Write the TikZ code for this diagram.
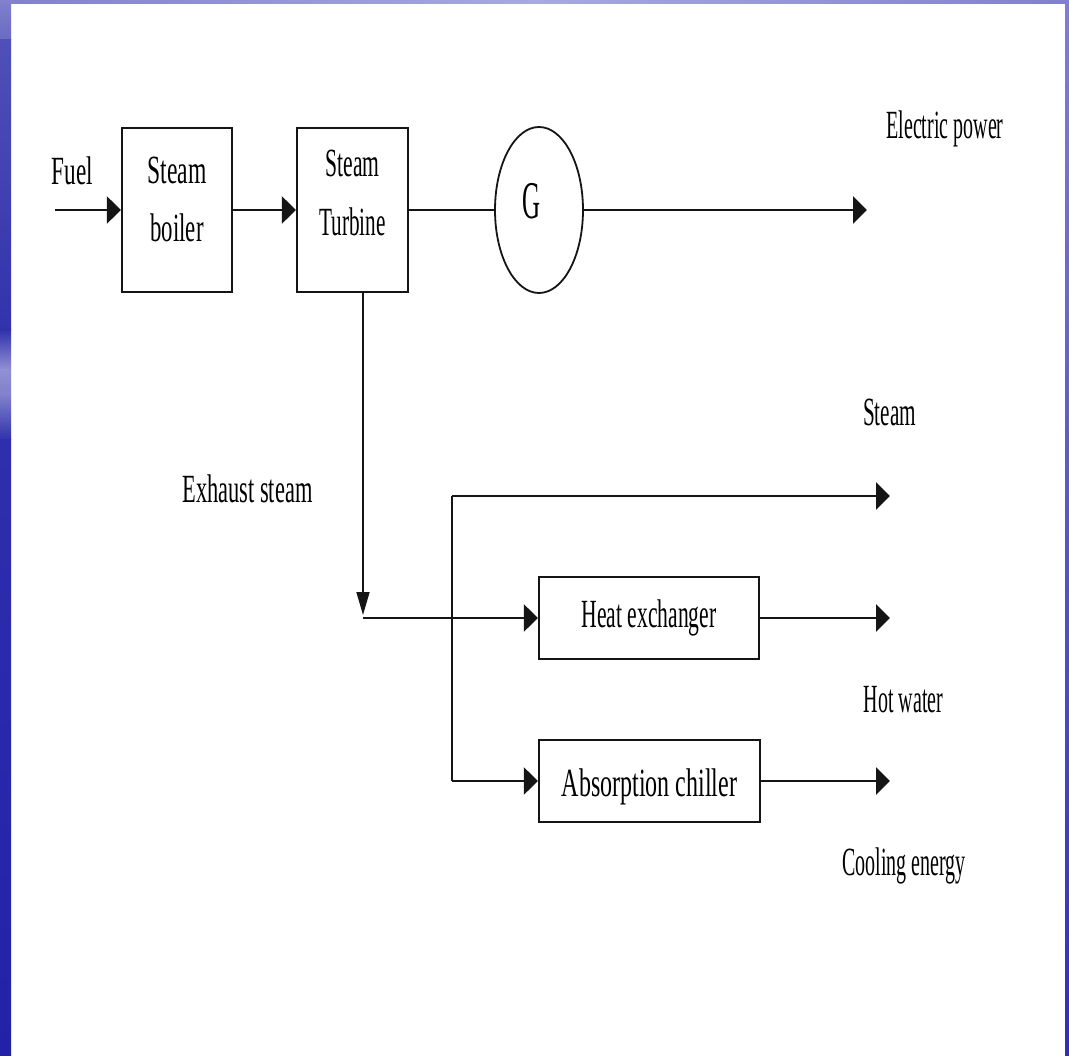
\documentclass[tikz,border=0pt]{standalone}
\usepackage{fontspec}
\setmainfont{Liberation Serif}
\usepackage{graphicx}
\usetikzlibrary{arrows.meta,shapes.geometric}
\newcommand\sx[2]{\scalebox{#1}[1]{#2}}
\newcommand\twolines[6]{\raisebox{#1}[0pt][0pt]{\fontsize{40}{#2}\selectfont\begin{tabular}[t]{@{}c@{}}\sx{#3}{#4}\\\sx{#5}{#6}\end{tabular}}}
\newcommand\oneline[3]{\raisebox{#1}[0pt][0pt]{\sx{#2}{#3}}}
\definecolor{ink}{HTML}{151515}
\begin{document}
\begin{tikzpicture}[x=1pt,y=-1pt,
  hline/.style={draw=ink,line width=2.6pt},
  vline/.style={draw=ink,line width=1.6pt},
  harrow/.style={-{Triangle[length=14pt,width=27pt]}},
  varrow/.style={-{Triangle[length=23pt,width=13pt]}},
  blockbox/.style={draw=ink,line width=2.2pt,inner sep=0pt,rectangle,font=\fontsize{40}{48}\selectfont},
  lbl/.style={inner sep=0pt,anchor=base,font=\fontsize{40}{48}\selectfont}]
\useasboundingbox (0,0) rectangle (1069,1056);
\fill[white] (0,0) rectangle (1069,1056);
% frame strips
\shade[top color={rgb,255:red,128;green,128;blue,204},bottom color={rgb,255:red,106;green,106;blue,196}] (0,0) rectangle (11,40);
\shade[top color={rgb,255:red,80;green,80;blue,184},bottom color={rgb,255:red,50;green,50;blue,172}] (0,40) rectangle (11,330);
\shade[top color={rgb,255:red,50;green,50;blue,172},bottom color={rgb,255:red,144;green,144;blue,212}] (0,330) rectangle (11,370);
\shade[top color={rgb,255:red,144;green,144;blue,212},bottom color={rgb,255:red,128;green,128;blue,204}] (0,370) rectangle (11,395);
\shade[top color={rgb,255:red,128;green,128;blue,204},bottom color={rgb,255:red,48;green,48;blue,172}] (0,395) rectangle (11,440);
\shade[top color={rgb,255:red,46;green,46;blue,174},bottom color={rgb,255:red,34;green,34;blue,168}] (0,440) rectangle (11,1056);
\shade[left color={rgb,255:red,128;green,128;blue,208},right color={rgb,255:red,128;green,128;blue,208},middle color={rgb,255:red,168;green,168;blue,228}] (0,0) rectangle (1069,4);
\shade[top color={rgb,255:red,128;green,128;blue,208},bottom color={rgb,255:red,48;green,48;blue,176}] (1065,0) rectangle (1069,1056);
% blocks
\node[blockbox,minimum width=110pt,minimum height=164pt] (boiler) at (177,210)
  {\twolines{26pt}{58}{.59}{Steam}{.57}{boiler}};
\node[blockbox,minimum width=111pt,minimum height=164pt] (turbine) at (352.5,210)
  {\twolines{33pt}{59}{.54}{Steam}{.53}{Turbine}};
\node[ellipse,draw=ink,line width=1.8pt,minimum width=88pt,minimum height=166pt,inner sep=0pt,font=\fontsize{53}{60}\selectfont] (gen) at (539,210)
  {\raisebox{-9pt}[0pt][0pt]{\makebox[0pt][c]{\hspace*{-16pt}\sx{.47}{G}}}};
\node[blockbox,minimum width=220pt,minimum height=82pt] (hx) at (649,618)
  {\oneline{-9pt}{.54}{Heat exchanger}};
\node[blockbox,minimum width=221pt,minimum height=82pt] (ac) at (649.5,781)
  {\oneline{-15.5pt}{.60}{Absorption chiller}};
% labels
\node[lbl] (fuel) at (72.5,185) {\sx{.58}{Fuel}};
\node[lbl] (elec) at (945,139) {\sx{.50}{Electric power}};
\node[lbl] (exh) at (247.5,503) {\sx{.56}{Exhaust steam}};
\node[lbl] (steamlbl) at (889.5,426) {\sx{.53}{Steam}};
\node[lbl] (hotw) at (903.5,712) {\sx{.50}{Hot water}};
\node[lbl] (cool) at (904,875) {\sx{.50}{Cooling energy}};
% coordinates
\coordinate (fuelin) at (55,210);
\coordinate (elecout) at (867,210);
\coordinate (exj) at (363,618);
\coordinate (sj) at (452,496);
\coordinate (steamout) at (890,496);
\coordinate (hwout) at (890,618);
\coordinate (ceout) at (890,781);
% connectors
\draw[hline,harrow] (fuelin) -- (boiler.west);
\draw[hline,harrow] (boiler.east) -- (turbine.west);
\draw[hline] (turbine.east) -- (gen.west);
\draw[hline,harrow] (gen.east) -- (elecout);
\draw[vline,varrow,shorten >=3pt] (turbine.south -| exj) -- (exj);
\draw[hline,harrow] (exj) -- (hx.west);
\draw[hline,harrow] (sj) -- (steamout);
\draw[vline] (sj) -- (sj |- ac.west);
\draw[hline,harrow] (sj |- ac.west) -- (ac.west);
\draw[hline,harrow] (hx.east) -- (hwout);
\draw[hline,harrow] (ac.east) -- (ceout);
\end{tikzpicture}
\end{document}
